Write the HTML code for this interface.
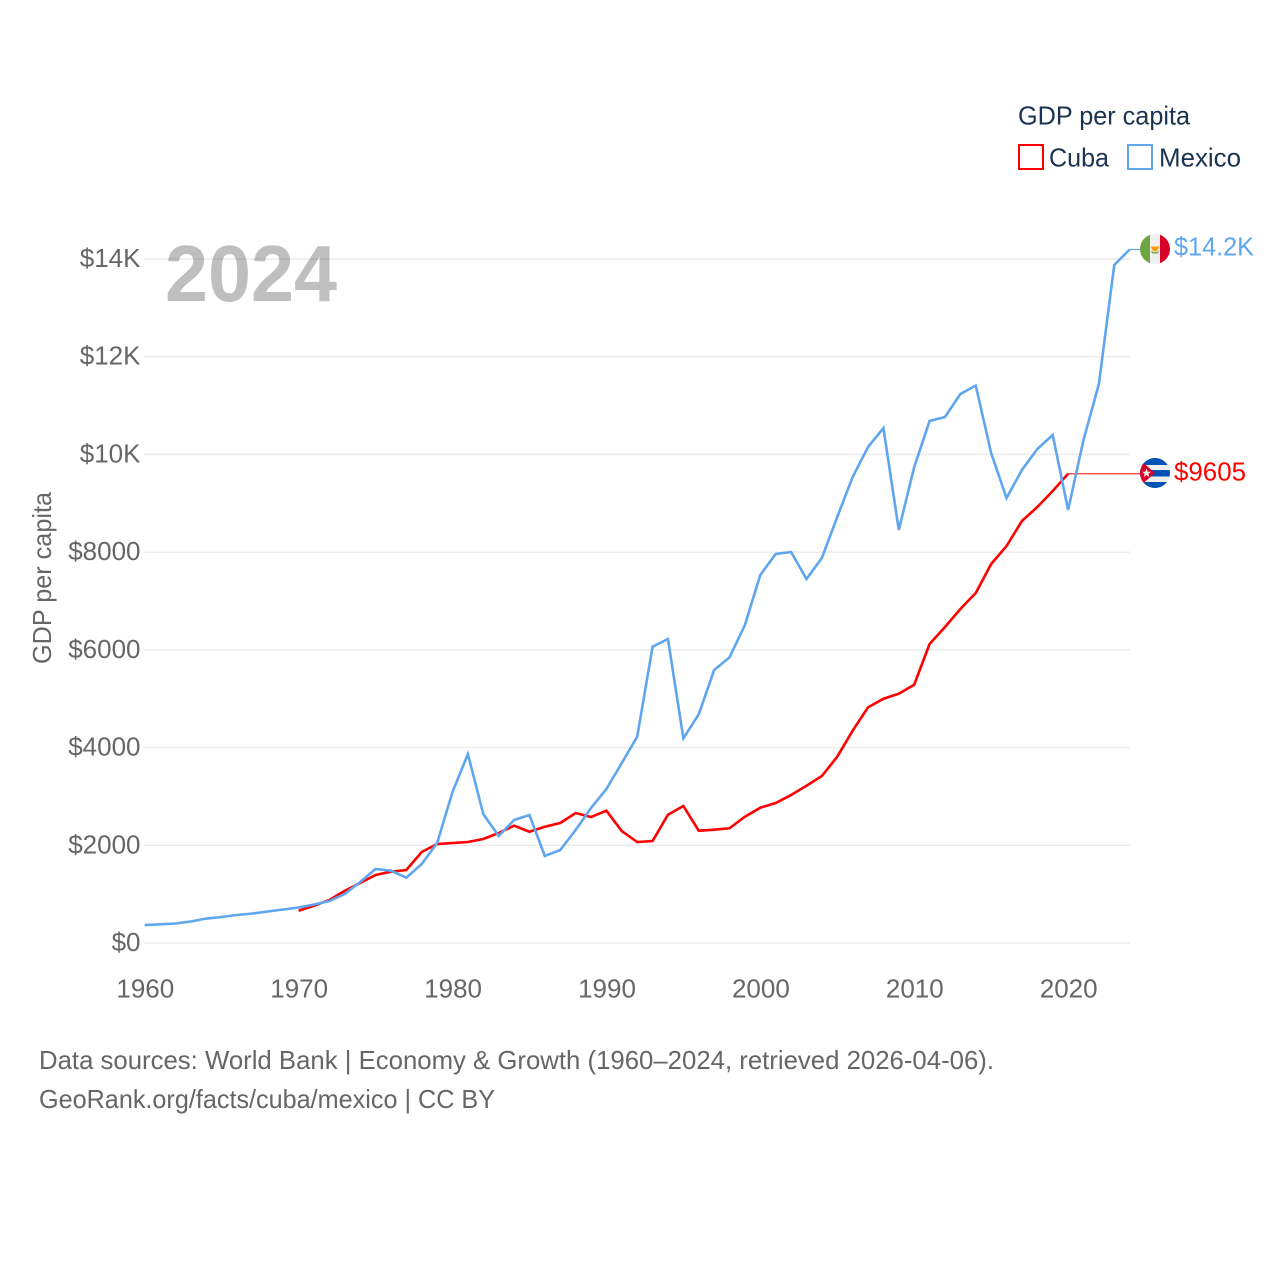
<!DOCTYPE html>
<html lang="en">
<head>
<meta charset="utf-8">
<title>GDP per capita: Cuba and Mexico</title>
<style>
html,body{margin:0;padding:0;background:#fff;width:1280px;height:1280px;overflow:hidden}
svg{display:block}
text{font-family:"Liberation Sans",sans-serif}
</style>
</head>
<body>
<svg id="chart" width="1280" height="1280" viewBox="0 0 1280 1280" xmlns="http://www.w3.org/2000/svg">
  <defs>
    <clipPath id="flag-clip-mx"><circle cx="1155" cy="249" r="15"/></clipPath>
    <clipPath id="flag-clip-cu"><circle cx="1155" cy="473" r="15"/></clipPath>
  </defs>
  <text x="165" y="301" font-size="80" font-weight="700" fill="#bfbfbf" textLength="172" lengthAdjust="spacingAndGlyphs">2024</text>
  <g id="grid"></g>
  <g id="y-ticks"></g>
  <g id="x-ticks"></g>
  <text transform="translate(51,664) rotate(-90)" font-size="26" fill="#666" textLength="172" lengthAdjust="spacingAndGlyphs">GDP per capita</text>
  <g id="series"></g>

  <g clip-path="url(#flag-clip-mx)">
    <rect x="1140" y="234" width="30" height="30" fill="#f0f0f0"/>
    <rect x="1140" y="234" width="10" height="30" fill="#6da544"/>
    <rect x="1160" y="234" width="10" height="30" fill="#d80027"/>
    <path d="M1150.500 246.500h9l-2 3.500-2.500 2-2.500-2z" fill="#ff9811"/>
    <path d="M1151 250.500q4 3.500 8 0l-1 3h-6z" fill="#6da544"/>
  </g>
  <g clip-path="url(#flag-clip-cu)">
    <rect x="1140" y="458" width="30" height="30" fill="#f0f0f0"/>
    <rect x="1140" y="458" width="30" height="7" fill="#0052b4"/>
    <rect x="1140" y="470" width="30" height="6.500" fill="#0052b4"/>
    <rect x="1140" y="482" width="30" height="6" fill="#0052b4"/>
    <path d="M1140 460l15 13-15 13z" fill="#d80027"/>
    <path d="M1146.500 468.500l1.200 3.200h3.300l-2.700 2 1 3.300-2.800-2-2.800 2 1-3.300-2.700-2h3.300z" fill="#f0f0f0"/>
  </g>

  <text x="1174" y="255.500" font-size="26" fill="#5fa6ee" textLength="80" lengthAdjust="spacingAndGlyphs">$14.2K</text>
  <text x="1174" y="480.500" font-size="26" fill="#ff0000" textLength="72" lengthAdjust="spacingAndGlyphs">$9605</text>

  <g>
    <text x="1018" y="124.500" font-size="26" fill="#1a3352" textLength="172" lengthAdjust="spacingAndGlyphs">GDP per capita</text>
    <g>
      <rect x="1019" y="145" width="24" height="24" fill="#fff" stroke="#ff0000" stroke-width="2"/>
      <text x="1049" y="166.500" font-size="26" fill="#1a3352" textLength="60" lengthAdjust="spacingAndGlyphs">Cuba</text>
    </g>
    <g>
      <rect x="1128" y="145" width="24" height="24" fill="#fff" stroke="#5fa6ee" stroke-width="2"/>
      <text x="1159" y="166.500" font-size="26" fill="#1a3352" textLength="82" lengthAdjust="spacingAndGlyphs">Mexico</text>
    </g>
  </g>

  <text x="39" y="1069" font-size="26" fill="#666" textLength="955" lengthAdjust="spacingAndGlyphs">Data sources: World Bank | Economy &amp; Growth (1960–2024, retrieved 2026-04-06).</text>
  <text x="39" y="1108" font-size="26" fill="#666" textLength="456" lengthAdjust="spacingAndGlyphs">GeoRank.org/facts/cuba/mexico | CC BY</text>
</svg>
<script>
const yTickValues = [0, 2000, 4000, 6000, 8000, 10000, 12000, 14000];
const yTickLabels = ["$0", "$2000", "$4000", "$6000", "$8000", "$10K", "$12K", "$14K"];
const xTickYears = [1960, 1970, 1980, 1990, 2000, 2010, 2020];
const xTickLabels = ["1960", "1970", "1980", "1990", "2000", "2010", "2020"];

const mexicoStartYear = 1960;
const mexicoValues = [368, 383, 399, 440, 501, 532, 573, 604, 645, 686,
  727, 788, 860, 1003, 1248, 1515, 1480, 1336, 1617, 2047,
  3090, 3868, 2640, 2190, 2517, 2620, 1781, 1903, 2313, 2763,
  3152, 3684, 4222, 6064, 6222, 4190, 4681, 5587, 5847, 6508,
  7532, 7962, 8003, 7450, 7880, 8719, 9538, 10152, 10540, 8453,
  9742, 10684, 10766, 11236, 11410, 10029, 9108, 9681, 10111, 10397,
  8862, 10295, 11441, 13877, 14194];

const cubaStartYear = 1970;
const cubaValues = [661, 763, 880, 1070, 1228, 1392, 1459, 1494, 1862, 2026,
  2047, 2067, 2129, 2251, 2401, 2278, 2380, 2456, 2661, 2579,
  2708, 2292, 2067, 2088, 2626, 2804, 2298, 2319, 2348, 2585,
  2769, 2865, 3029, 3219, 3418, 3813, 4345, 4824, 5000, 5102,
  5287, 6120, 6468, 6836, 7163, 7757, 8125, 8637, 8924, 9251,
  9605];

const NS = "http://www.w3.org/2000/svg";
function xScale(year) { return 144.7 + (year - 1960) * 15.39; }
function yScale(value) { return 943 - value * (943 - 259) / 14000; }
function make(tag, attrs, parent) {
  const el = document.createElementNS(NS, tag);
  for (const k in attrs) el.setAttribute(k, attrs[k]);
  parent.appendChild(el);
  return el;
}

const grid = document.getElementById("grid");
const yTicks = document.getElementById("y-ticks");
const xTicks = document.getElementById("x-ticks");
const seriesGroup = document.getElementById("series");

yTickValues.forEach(function (v, i) {
  const line = make("line", { x1: 144.5, x2: 1130, y1: yScale(v), y2: yScale(v), stroke: "#000000", "stroke-opacity": 0.075, "stroke-width": 1.5 }, grid);
  
  
  const t = make("text", { x: 140.5, y: yScale(v) + 8, "text-anchor": "end", "font-size": 26, fill: "#666" }, yTicks);
  
  
  t.textContent = yTickLabels[i];
});

xTickYears.forEach(function (yr, i) {
  const t = make("text", { x: xScale(yr) + 0.6, y: 997.5, "text-anchor": "middle", "font-size": 26, fill: "#666" }, xTicks);
  
  
  t.textContent = xTickLabels[i];
});

function pathFor(values, startYear) {
  return values.map(function (v, i) {
    return (i ? "L" : "M") + xScale(startYear + i).toFixed(2) + " " + yScale(v).toFixed(2);
  }).join("");
}

const cubaLast = cubaValues[cubaValues.length - 1];
const cubaLastYear = cubaStartYear + cubaValues.length - 1;
const cubaLeader = make("line", { x1: xScale(cubaLastYear), x2: 1140, y1: yScale(cubaLast), y2: yScale(cubaLast), stroke: "#ff0000", "stroke-opacity": 0.8, "stroke-width": 1.2 }, seriesGroup);



const mexicoLast = mexicoValues[mexicoValues.length - 1];
const mexicoLastYear = mexicoStartYear + mexicoValues.length - 1;
const mexicoLeader = make("line", { x1: xScale(mexicoLastYear), x2: 1140, y1: yScale(mexicoLast), y2: yScale(mexicoLast), stroke: "#5fa6ee", "stroke-width": 1.2 }, seriesGroup);



const cubaLine = make("path", { d: pathFor(cubaValues, cubaStartYear), fill: "none", stroke: "#ff0000", "stroke-width": 2.6, "stroke-linejoin": "miter" }, seriesGroup);



const mexicoLine = make("path", { d: pathFor(mexicoValues, mexicoStartYear), fill: "none", stroke: "#5fa6ee", "stroke-width": 2.6, "stroke-linejoin": "miter" }, seriesGroup);


</script>
</body>
</html>
